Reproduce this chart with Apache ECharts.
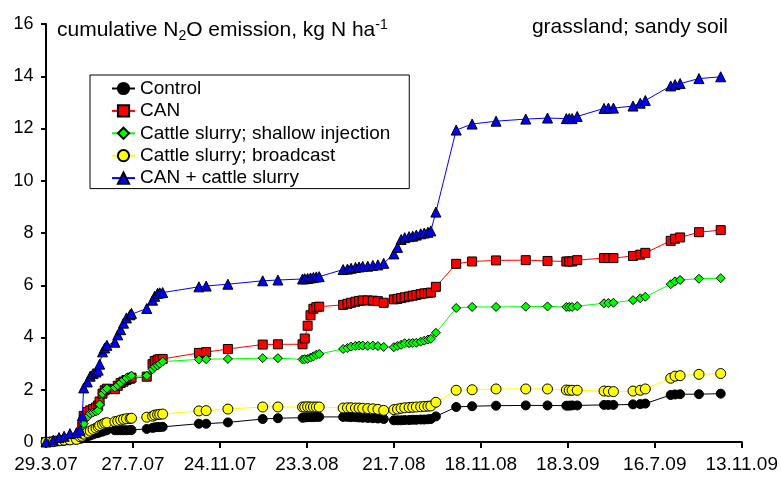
<!DOCTYPE html>
<html>
<head>
<meta charset="utf-8">
<script src="https://cdn.jsdelivr.net/npm/echarts@6/dist/echarts.min.js"></script>
<style>
  html, body { margin: 0; padding: 0; background: #fff; }
  #chart { width: 781px; height: 478px; }
</style>
</head>
<body>
<div id="chart"></div>
<script>
// Tick labels of the date axis (one every 120 days from 29.3.07)
const xTickLabels = ['29.3.07', '27.7.07', '24.11.07', '23.3.08', '21.7.08',
                     '18.11.08', '18.3.09', '16.7.09', '13.11.09'];
const tickStepDays = 120;

// Sampling dates, days after 29 March 2007
const dayOffsets = [0, 10, 18, 25, 33, 42, 47, 50, 52, 57, 61, 65, 69, 72, 74, 78, 81, 84,
  95, 99, 103, 107, 111, 116, 118, 139, 147, 150, 154, 157, 161, 211, 221, 251, 299, 320,
  354, 357, 361, 365, 369, 373, 377, 410, 416, 421, 427, 432, 437, 444, 451, 458, 466,
  480, 485, 490, 495, 501, 506, 511, 517, 522, 527, 531, 538, 566, 588, 621, 662, 692,
  718, 722, 726, 733, 770, 776, 783, 810, 820, 827, 862, 868, 875, 901, 931];

// Cumulative N2O emission, kg N ha-1
const control = [0, 0.01, 0.03, 0.05, 0.07, 0.09, 0.12, 0.14, 0.17, 0.21, 0.25, 0.29, 0.33, 0.35,
  0.37, 0.40, 0.44, 0.45, 0.45, 0.45, 0.45, 0.45, 0.45, 0.46, 0.46, 0.50, 0.54, 0.56, 0.57,
  0.57, 0.58, 0.70, 0.70, 0.75, 0.88, 0.91, 0.93, 0.94, 0.95, 0.95, 0.95, 0.96, 0.96, 0.96,
  0.96, 0.95, 0.95, 0.94, 0.93, 0.92, 0.91, 0.90, 0.88, 0.83, 0.83, 0.83, 0.84, 0.84, 0.85,
  0.85, 0.86, 0.86, 0.87, 0.88, 0.98, 1.34, 1.37, 1.39, 1.40, 1.40, 1.39, 1.39, 1.40, 1.40,
  1.42, 1.42, 1.42, 1.44, 1.45, 1.47, 1.80, 1.82, 1.83, 1.83, 1.85];

const can = [0, 0.02, 0.05, 0.07, 0.10, 0.15, 0.30, 0.60, 1.00, 1.15, 1.21, 1.26, 1.32, 1.40,
  1.55, 1.85, 1.98, 2.04, 2.02, 2.15, 2.26, 2.31, 2.37, 2.42, 2.46, 2.50, 2.98, 3.10, 3.15,
  3.17, 3.18, 3.41, 3.44, 3.56, 3.73, 3.74, 3.74, 3.96, 4.45, 4.85, 5.10, 5.16, 5.18, 5.25,
  5.29, 5.33, 5.37, 5.40, 5.42, 5.42, 5.41, 5.39, 5.33, 5.46, 5.48, 5.51, 5.54, 5.57, 5.60,
  5.63, 5.66, 5.69, 5.70, 5.72, 5.94, 6.82, 6.91, 6.95, 6.96, 6.93, 6.91, 6.91, 6.91, 6.96,
  7.04, 7.04, 7.04, 7.12, 7.17, 7.24, 7.70, 7.78, 7.83, 8.03, 8.11];

const shallowInjection = [0, 0.02, 0.05, 0.07, 0.10, 0.15, 0.25, 0.45, 0.70, 0.95, 1.09, 1.13,
  1.17, 1.21, 1.44, 1.85, 1.98, 2.05, 2.09, 2.17, 2.27, 2.38, 2.45, 2.50, 2.54, 2.54, 2.78,
  2.88, 2.93, 3.00, 3.08, 3.16, 3.17, 3.18, 3.21, 3.21, 3.16, 3.17, 3.18, 3.23, 3.28, 3.34,
  3.37, 3.56, 3.60, 3.65, 3.68, 3.69, 3.69, 3.68, 3.69, 3.67, 3.64, 3.63, 3.68, 3.72, 3.78,
  3.78, 3.79, 3.80, 3.84, 3.88, 3.92, 3.95, 4.18, 5.13, 5.17, 5.17, 5.18, 5.19, 5.17, 5.17,
  5.17, 5.20, 5.31, 5.32, 5.33, 5.43, 5.50, 5.56, 6.04, 6.15, 6.20, 6.25, 6.27];

const broadcast = [0, 0.01, 0.05, 0.07, 0.08, 0.10, 0.20, 0.22, 0.30, 0.36, 0.42, 0.48, 0.53,
  0.58, 0.63, 0.68, 0.72, 0.74, 0.78, 0.80, 0.84, 0.87, 0.89, 0.90, 0.91, 0.95, 0.99, 1.03,
  1.05, 1.06, 1.07, 1.19, 1.20, 1.26, 1.34, 1.34, 1.34, 1.34, 1.35, 1.34, 1.34, 1.34, 1.34,
  1.30, 1.31, 1.31, 1.30, 1.30, 1.29, 1.28, 1.27, 1.25, 1.21, 1.24, 1.26, 1.29, 1.31, 1.32,
  1.33, 1.34, 1.35, 1.36, 1.37, 1.38, 1.52, 1.98, 2.00, 2.03, 2.03, 2.03, 1.99, 1.98, 1.98,
  1.98, 1.95, 1.94, 1.93, 1.95, 1.98, 2.03, 2.44, 2.52, 2.54, 2.59, 2.62];

const canPlusSlurry = [0, 0.07, 0.17, 0.22, 0.32, 0.36, 0.45, 1.00, 2.07, 2.30, 2.52, 2.62,
  2.68, 2.75, 2.98, 3.45, 3.60, 3.70, 3.82, 4.10, 4.30, 4.55, 4.75, 4.87, 4.92, 5.11, 5.43,
  5.58, 5.69, 5.71, 5.72, 5.94, 5.97, 6.04, 6.17, 6.20, 6.24, 6.25, 6.26, 6.28, 6.30, 6.32,
  6.33, 6.60, 6.62, 6.65, 6.68, 6.70, 6.72, 6.73, 6.76, 6.78, 6.84, 7.20, 7.45, 7.75, 7.82,
  7.86, 7.88, 7.92, 7.97, 8.00, 8.03, 8.08, 8.80, 11.94, 12.17, 12.28, 12.36, 12.40, 12.38,
  12.38, 12.38, 12.46, 12.77, 12.78, 12.78, 12.86, 12.97, 13.07, 13.63, 13.68, 13.72, 13.91,
  13.98];

const seriesNames = ['Control', 'CAN', 'Cattle slurry; shallow injection',
                     'Cattle slurry; broadcast', 'CAN + cattle slurry'];
const seriesValues = [control, can, shallowInjection, broadcast, canPlusSlurry];
const lineColors = ['#000000', '#ff0000', '#00ff00', '#ffff00', '#0000ff'];
const fillColors = ['#000000', '#ff0000', '#00ff00', '#ffff00', '#0000ff'];
const symbols = ['circle', 'rect', 'diamond', 'circle', 'triangle'];
const symbolSizes = [9, 9, 9, 10, 10];

const FONT = 'Liberation Sans, Arial, sans-serif';

const chart = echarts.init(document.getElementById('chart'), null, { renderer: 'canvas' });

const series = seriesValues.map((vals, k) => ({
  name: seriesNames[k],
  type: 'line',
  data: vals.map((v, i) => [dayOffsets[i], v]),
  symbol: symbols[k],
  symbolSize: symbolSizes[k],
  showAllSymbol: true,
  lineStyle: { color: lineColors[k], width: 1 },
  itemStyle: { color: fillColors[k], borderColor: '#000', borderWidth: 1 },
  emphasis: { disabled: true },
  animation: false,
  z: 2 + k
}));

chart.setOption({
  animation: false,
  backgroundColor: '#fff',
  grid: { left: 46, right: 35, top: 24, bottom: 36, containLabel: false },
  title: [
    {
      text: 'cumulative N{sub|2}O emission, kg N ha{sup|-1}',
      left: 52, top: 13,
      textStyle: {
        fontFamily: FONT, fontSize: 21, fontWeight: 'normal', color: '#000', lineHeight: 25,
        rich: {
          sub: { fontFamily: FONT, fontSize: 14, verticalAlign: 'bottom', lineHeight: 14, color: '#000' },
          sup: { fontFamily: FONT, fontSize: 14, verticalAlign: 'top', lineHeight: 14, color: '#000' }
        }
      }
    },
    {
      text: 'grassland; sandy soil',
      right: 48, top: 12,
      textStyle: { fontFamily: FONT, fontSize: 21, fontWeight: 'normal', color: '#000' }
    }
  ],
  legend: {
    orient: 'vertical',
    left: 90, top: 75,
    padding: [4, 19, 1, 21],
    itemGap: 3.4,
    itemWidth: 23,
    itemHeight: 14,
    borderColor: '#000',
    borderWidth: 1,
    backgroundColor: '#fff',
    data: seriesNames,
    textStyle: { fontFamily: FONT, fontSize: 19, lineHeight: 19, color: '#000' },
    selectedMode: false
  },
  xAxis: {
    type: 'value',
    min: 0, max: xTickLabels.length * tickStepDays - tickStepDays,
    interval: tickStepDays,
    axisLine: { lineStyle: { color: '#000', width: 2 } },
    axisTick: { show: true, inside: false, length: 6, lineStyle: { color: '#000', width: 2 } },
    axisLabel: {
      margin: 13, color: '#000', fontFamily: FONT, fontSize: 19,
      formatter: v => xTickLabels[Math.round(v / tickStepDays)]
    },
    splitLine: { show: false }
  },
  yAxis: {
    type: 'value',
    min: 0, max: 16, interval: 2,
    axisLine: { show: true, lineStyle: { color: '#000', width: 2 } },
    axisTick: { show: true, inside: false, length: 5, lineStyle: { color: '#000', width: 2 } },
    axisLabel: { margin: 12.5, color: '#000', fontFamily: FONT, fontSize: 18 },
    splitLine: { show: false }
  },
  series: series
});
</script>
</body>
</html>
